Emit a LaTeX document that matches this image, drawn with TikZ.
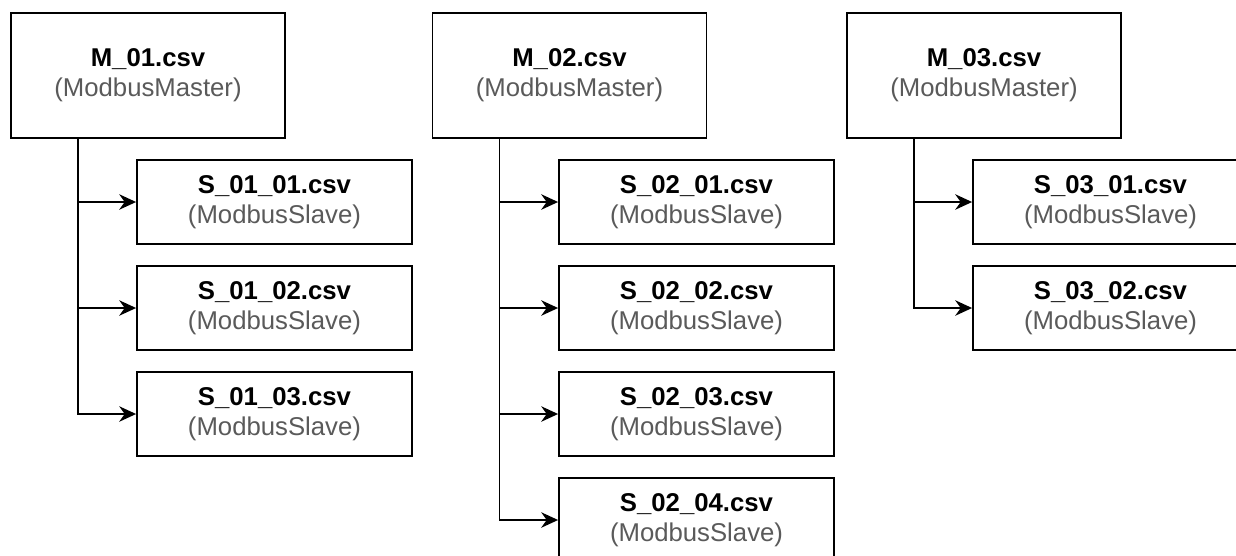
\documentclass[tikz,border=0pt]{standalone}
\usepackage{fontspec}
\setmainfont{Liberation Sans}
\usepackage{xcolor}
\usepackage{tikz}
\usetikzlibrary{calc,positioning,arrows.meta}
\definecolor{subtlegray}{RGB}{90,90,90}

\begin{document}
\begin{tikzpicture}[
  master/.style={draw=black, line width=1.3pt, fill=white,
    minimum width=6.85cm, minimum height=3.125cm, inner sep=0pt,
    font=\fontsize{18.3}{21.5}\selectfont, align=center},
  slave/.style={draw=black, line width=1.3pt, fill=white,
    minimum width=6.875cm, minimum height=2.1cm, inner sep=0pt,
    font=\fontsize{18.3}{21.5}\selectfont, align=center},
  arr/.style={-{Stealth[length=12pt, width=11pt]}, line width=1.2pt, black},
]
  \useasboundingbox (0,0) rectangle (30.9,-13.875);

  \node[master] (m1) at (3.7,-1.8875) {\textbf{M\_01.csv}\\{\color{subtlegray}(ModbusMaster)}};
  \node[master] (m2) at (14.2375,-1.8875) {\textbf{M\_02.csv}\\{\color{subtlegray}(ModbusMaster)}};
  \node[master] (m3) at (24.6,-1.8875) {\textbf{M\_03.csv}\\{\color{subtlegray}(ModbusMaster)}};

  \node[slave] (s11) at (6.8625,-5.05) {\textbf{S\_01\_01.csv}\\{\color{subtlegray}(ModbusSlave)}};
  \node[slave] (s12) at (6.8625,-7.7) {\textbf{S\_01\_02.csv}\\{\color{subtlegray}(ModbusSlave)}};
  \node[slave] (s13) at (6.8625,-10.35) {\textbf{S\_01\_03.csv}\\{\color{subtlegray}(ModbusSlave)}};

  \node[slave] (s21) at (17.4125,-5.05) {\textbf{S\_02\_01.csv}\\{\color{subtlegray}(ModbusSlave)}};
  \node[slave] (s22) at (17.4125,-7.7) {\textbf{S\_02\_02.csv}\\{\color{subtlegray}(ModbusSlave)}};
  \node[slave] (s23) at (17.4125,-10.35) {\textbf{S\_02\_03.csv}\\{\color{subtlegray}(ModbusSlave)}};
  \node[slave] (s24) at (17.4125,-13.0) {\textbf{S\_02\_04.csv}\\{\color{subtlegray}(ModbusSlave)}};

  \node[slave] (s31) at (27.7625,-5.05) {\textbf{S\_03\_01.csv}\\{\color{subtlegray}(ModbusSlave)}};
  \node[slave] (s32) at (27.7625,-7.7) {\textbf{S\_03\_02.csv}\\{\color{subtlegray}(ModbusSlave)}};

  \coordinate (t1) at ([xshift=1.7cm]m1.south west);
  \coordinate (t2) at ([xshift=1.7cm]m2.south west);
  \coordinate (t3) at ([xshift=1.7cm]m3.south west);

  \draw[arr] (t1) |- (s11.west);
  \draw[arr] (t1) |- (s12.west);
  \draw[arr] (t1) |- (s13.west);

  \draw[arr] (t2) |- (s21.west);
  \draw[arr] (t2) |- (s22.west);
  \draw[arr] (t2) |- (s23.west);
  \draw[arr] (t2) |- (s24.west);

  \draw[arr] (t3) |- (s31.west);
  \draw[arr] (t3) |- (s32.west);
\end{tikzpicture}
\end{document}
